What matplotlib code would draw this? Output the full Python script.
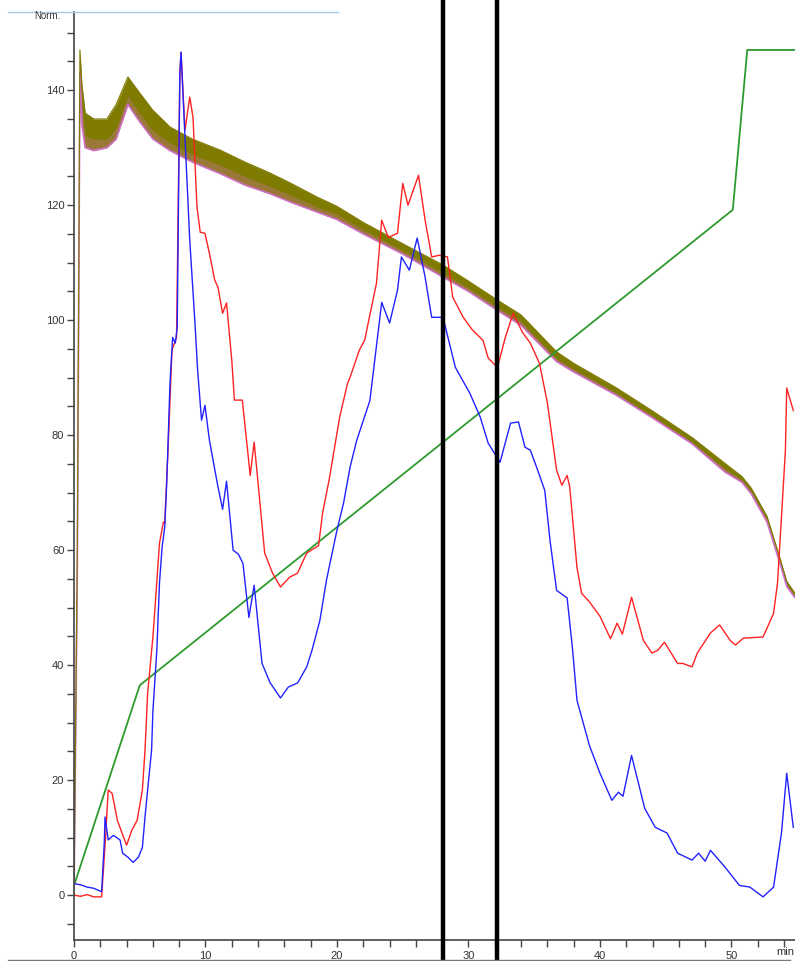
import matplotlib
matplotlib.use("Agg")
import matplotlib.pyplot as plt
from matplotlib.lines import Line2D
from matplotlib.ticker import MultipleLocator

plt.rcParams["font.family"] = ["Liberation Sans", "DejaVu Sans"]

# time (min), normalised signal
blue_t = [0, 0.5, 1.0, 1.5, 2.1, 2.3, 2.36, 2.6, 3.0, 3.5, 3.7, 4.1, 4.5, 4.9, 5.2, 5.4, 5.65, 5.9,
          6.0, 6.3, 6.5, 6.7, 6.9, 7.05, 7.3, 7.5, 7.7, 7.85, 8.05, 8.14, 8.44, 8.8, 9.2, 9.4, 9.7,
          9.96, 10.3, 10.9, 11.3, 11.6, 12.1, 12.5, 12.85, 13.3, 13.7, 14.3, 14.9, 15.7, 16.3, 17.0,
          17.7, 18.1, 18.7, 19.2, 20.0, 20.5, 21.0, 21.5, 22.5, 23.4, 24.0, 24.6, 24.9, 25.5, 26.1,
          26.7, 27.2, 28.06, 29.0, 30.1, 30.9, 31.5, 32.4, 33.2, 33.8, 34.3, 34.7, 35.2, 35.8, 36.2,
          36.7, 37.5, 37.9, 38.25, 39.2, 40.0, 40.9, 41.4, 41.75, 42.4, 43.4, 44.2, 45.1, 45.9, 47.0,
          47.5, 48.0, 48.4, 49.5, 50.6, 51.4, 52.4, 53.2, 53.8, 54.2, 54.7]
blue_y = [2.0, 1.8, 1.4, 1.2, 0.6, 9, 13.6, 9.6, 10.4, 9.6, 7.3, 6.6, 5.7, 6.6, 8.3, 13.6, 19.5, 25.2,
          32, 42.6, 54.3, 60.5, 64, 71.6, 89, 97, 96, 98.8, 143, 146.6, 131.8, 114, 99.5, 91.3, 82.6,
          85.2, 79.1, 71.6, 67.1, 72, 60, 59.3, 57.7, 48.3, 53.9, 40.3, 37, 34.3, 36.2, 36.9,
          39.7, 42.6, 47.8, 54.8, 63.5, 68.2, 74.5, 79.1, 86, 103.1, 99.5, 105.2, 111, 108.7, 114.3,
          107.5, 100.5, 100.5, 91.8, 87.3, 83.1, 78.6, 75.3, 82.1, 82.3, 77.9, 77.4, 74.3, 70.4, 61.7,
          53, 51.7, 43.1, 33.9, 26, 21.2, 16.5, 17.9, 17.2, 24.3, 15.1, 11.8, 10.8, 7.3, 6.1,
          7.3, 5.9, 7.8, 4.9, 1.7, 1.4, -0.3, 1.4, 10.8, 21.2, 11.8]

red_t = [0, 0.5, 1.0, 1.5, 2.1, 2.4, 2.6, 2.9, 3.3, 3.7, 4.0, 4.4, 4.8, 5.2, 5.4, 5.6, 6.0, 6.2, 6.5,
         6.8, 6.9, 7.15, 7.45, 7.8, 8.05, 8.14, 8.44, 8.8, 9.05, 9.35, 9.6, 9.96, 10.3, 10.7, 10.95,
         11.3, 11.6, 12.0, 12.2, 12.8, 13.4, 13.7, 14.0, 14.5, 15.1, 15.7, 16.4, 17.0, 17.7, 18.6,
         18.9, 19.2, 19.4, 20.2, 20.8, 21.0, 21.7, 22.1, 23.0, 23.4, 23.9, 24.6, 25.0, 25.4, 26.2,
         26.7, 27.2, 27.8, 28.4, 28.8, 29.6, 30.3, 31.1, 31.5, 32.2, 32.8, 33.4, 34.1, 34.7, 35.4,
         36.0, 36.7, 37.1, 37.5, 37.7, 38.25, 38.6, 39.2, 40.0, 40.8, 41.3, 41.7, 42.4, 43.3, 43.95,
         44.4, 44.9, 45.9, 46.3, 47.0, 47.4, 48.4, 49.1, 49.9, 50.3, 50.9, 52.4, 53.2, 53.5, 53.8,
         54.1, 54.2, 54.7]
red_y = [0, -0.2, 0.1, -0.3, -0.3, 10, 18.3, 17.7, 13, 10.5, 8.7, 11.3, 13, 18.3, 25.2, 35.1, 44.9,
         51.3, 61.2, 64.9, 64.7, 77.4, 94.8, 97, 143, 146.6, 133, 138.8, 135.3, 119.7, 115.3, 115.1,
         111.6, 107, 105.7, 101.2, 103, 93, 86.1, 86.1, 73, 78.8, 71.6, 59.5, 56, 53.6, 55.3, 56,
         59.5, 60.8, 66.4, 69.9, 72.2, 83.1, 89, 90.1, 94.8, 96.5, 106.4, 117.4, 114.4, 115.1, 123.8,
         120, 125.2, 117.4, 111, 111.3, 111, 104, 100.5, 98.3, 96.5, 93.4, 91.8, 97, 101.2, 97.9, 96,
         92.5, 85.6, 73.9, 71.3, 73, 71, 57, 52.5, 51, 48.5, 44.6, 47.3, 45.4, 51.8, 44.3, 42.1,
         42.6, 44, 40.3, 40.3, 39.7, 42.1, 45.6, 47, 44.3, 43.5, 44.7, 44.9, 49, 54.3, 65.7,
         77.4, 88.2, 84.3]

grad_t = [0.05, 5.0, 50.1, 51.2, 54.9]
grad_y = [2.0, 36.5, 119.2, 147.0, 147.0]

# trace with fast ripple: upper edge, lower edge of the olive part, lower edge of the teeth
osc_t = [0, 0.25, 0.45, 0.6, 0.85, 1.5, 2.5, 3.2, 4.1, 5.0, 6.0, 7.3, 9.0, 11.1, 13.0, 14.9, 16.5,
         18.5, 20.0, 22.0, 25.0, 28.06, 30.0, 32.2, 34.0, 36.7, 38.0, 41.2, 44.0, 47.0, 49.5, 50.8,
         51.5, 52.7, 53.7, 54.2, 54.8]
osc_hi = [0, 60, 147, 141, 136, 135, 135, 137.5, 142.3, 139.5, 136.5, 133.6, 131.5, 129.6, 127.5,
          125.6, 123.8, 121.4, 119.8, 117.0, 113.3, 109.6, 106.8, 103.5, 100.9, 94.5, 92.5, 88.3,
          84.2, 79.6, 75.1, 72.8, 70.8, 65.9, 58.5, 54.6, 52.6]
osc_mid = [0, 58, 145, 137, 132, 131.5, 131.5, 133.5, 139, 136, 133, 130.8, 128.8, 127.0, 125.0,
           123.3, 121.7, 119.7, 118.4, 115.8, 112.1, 108.3, 105.6, 102.3, 99.8, 93.3, 91.5, 87.4,
           83.3, 78.8, 74.2, 72.2, 70.2, 65.3, 57.9, 54.0, 52.1]
osc_lo = [0, 56, 143, 134, 130, 129.5, 130, 131.5, 137.5, 134.5, 131.5, 129.5, 127.5, 125.5, 123.5,
          122.0, 120.5, 118.8, 117.5, 115.0, 111.5, 107.5, 105.0, 101.7, 99.1, 92.8, 91.0, 87.0,
          83.0, 78.5, 73.6, 71.8, 69.8, 64.9, 57.6, 53.7, 51.8]

cursors = [28.06, 32.17]

fig = plt.figure(figsize=(7.95, 9.61), dpi=100)
ax = fig.add_axes([74 / 795, 21 / 961, 1 - 74 / 795, 928 / 961])

ax.plot(osc_t, osc_lo, color="#d070c8", lw=1.2)
ax.fill_between(osc_t, osc_lo, osc_hi, color="#7f7a00", lw=0)
ax.fill_between(osc_t, osc_lo, osc_mid, color="#b07868", alpha=0.55, lw=0)
ax.plot(osc_t, osc_hi, color="#7f7a00", lw=0.8)

ax.plot(grad_t, grad_y, color="#2e9a2e", lw=1.3)
ax.plot(red_t, red_y, color="#ff2222", lw=1.0)
ax.plot(blue_t, blue_y, color="#2222ff", lw=1.0)

for c in cursors:
    ax.axvline(c, ymin=-0.0226, ymax=1.013, color="black", lw=3.2, clip_on=False, zorder=5)

ax.set_xlim(0, 54.83)
ax.set_ylim(-7.8, 153.6)
ax.spines["top"].set_visible(False)
ax.spines["right"].set_visible(False)
for s in ("left", "bottom"):
    ax.spines[s].set_color("#444444")
    ax.spines[s].set_linewidth(1.2)

ax.xaxis.set_major_locator(MultipleLocator(10))
ax.xaxis.set_minor_locator(MultipleLocator(2))
ax.yaxis.set_minor_locator(MultipleLocator(5))
ax.set_yticks([0, 20, 40, 60, 80, 100, 120, 140])
ax.tick_params(which="both", direction="out", length=5, width=1, color="#444444",
               labelsize=8, labelcolor="#333333", pad=2)
ax.tick_params(axis="x", which="major", pad=3)

fig.text(47 / 795, 1 - 16 / 961, "Norm.", fontsize=7, color="#333333", ha="center", va="center")
fig.text(794 / 795, 1 - 952 / 961, "min", fontsize=8, color="#333333", ha="right", va="center")

fig.add_artist(Line2D([8 / 795, 338 / 795], [1 - 12 / 961] * 2, color="#a8c8e8", lw=1))
fig.add_artist(Line2D([8 / 795, 790 / 795], [1 - 960 / 961] * 2, color="#777777", lw=1))

fig.savefig("out.png", dpi=100, facecolor="white")
